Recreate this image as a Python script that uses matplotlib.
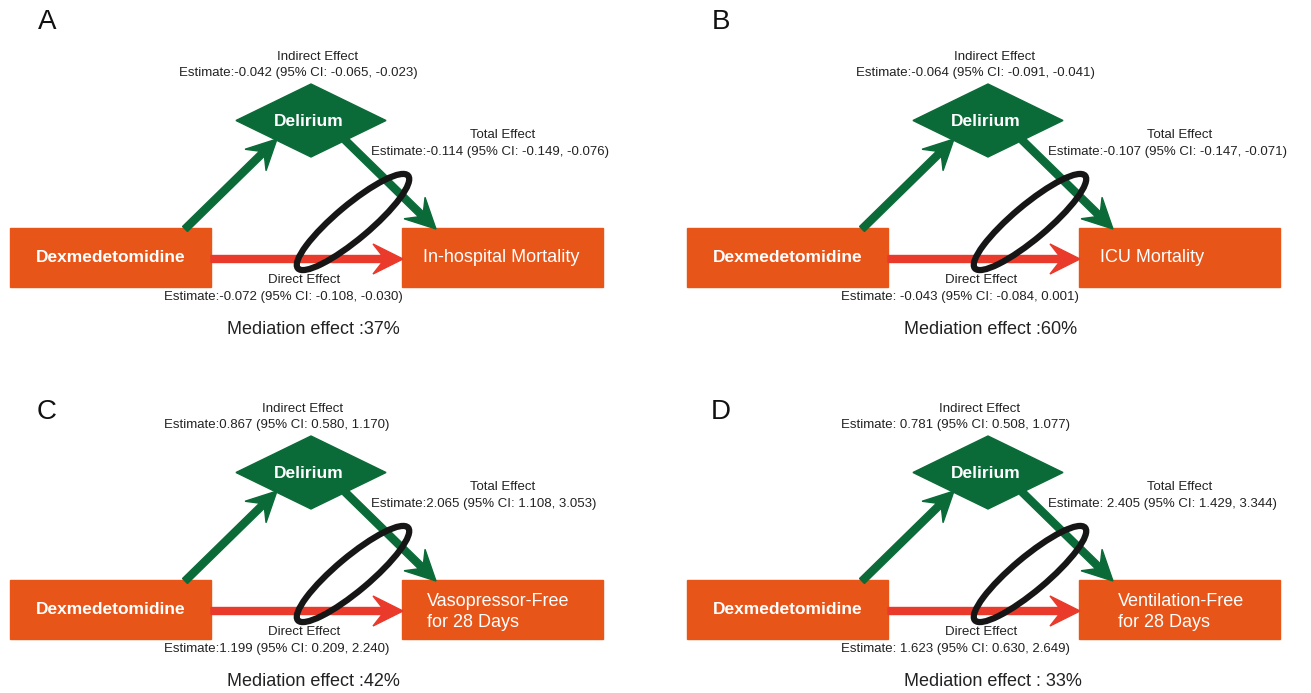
import matplotlib
matplotlib.use("Agg")
import matplotlib.pyplot as plt
from matplotlib.patches import Rectangle, Polygon, Ellipse, FancyArrow

plt.rcParams['font.family'] = ['Liberation Sans', 'DejaVu Sans']

# values
panel_labels = ['A', 'B', 'C', 'D']
exposure = 'Dexmedetomidine'
mediator = 'Delirium'
outcomes = ['In-hospital Mortality', 'ICU Mortality',
            'Vasopressor-Free\nfor 28 Days', 'Ventilation-Free\nfor 28 Days']

indirect_est = [-0.042, -0.064, 0.867, 0.781]
indirect_lo = [-0.065, -0.091, 0.580, 0.508]
indirect_hi = [-0.023, -0.041, 1.170, 1.077]
total_est = [-0.114, -0.107, 2.065, 2.405]
total_lo = [-0.149, -0.147, 1.108, 1.429]
total_hi = [-0.076, -0.071, 3.053, 3.344]
direct_est = [-0.072, -0.043, 1.199, 1.623]
direct_lo = [-0.108, -0.084, 0.209, 0.630]
direct_hi = [-0.030, 0.001, 2.240, 2.649]
mediation_pct = [37, 60, 42, 33]

# separators as printed in the original
indirect_sep = [':', ':', ':', ': ']
total_sep = [':', ':', ':', ': ']
direct_sep = [':', ': ', ':', ': ']
mediation_sep = [' :', ' :', ' :', ' : ']

# colours
ORANGE = '#E85519'
GREEN = '#0B6B38'
RED = '#E93A2B'
TXT = '#222222'

# panel offsets (pixels) and small per-panel tweaks
panel_dx = [0, 677, 0, 677]
panel_dy = [0, 0, 352, 352]
label_y = [22, 22, 412, 412]
indirect_shift = [0, 0, -15, -15]
outcome_text_dx = [21, 21, 25, 39]


def est_text(sep, e, lo, hi):
    return "Estimate%s%.3f (95%% CI: %.3f, %.3f)" % (sep, e, lo, hi)


def arrow(x0, y0, x1, y1, col):
    # swept-back arrowhead like the drawing program ones
    return FancyArrow(x0, y0, x1 - x0, y1 - y0, width=7, head_width=30,
                      head_length=30, length_includes_head=True, overhang=0.3,
                      color=col, zorder=2)


fig = plt.figure(figsize=(13.11, 6.93), dpi=100)
ax = fig.add_axes([0, 0, 1, 1])
ax.set_xlim(0, 1311)
ax.set_ylim(693, 0)
ax.axis('off')

for i in range(4):
    dx = panel_dx[i]
    dy = panel_dy[i]
    sh = indirect_shift[i]

    ax.text(47 + dx - (3 if i % 2 else 0), label_y[i], panel_labels[i],
            fontsize=20, ha='center', va='center', color='#111111')

    # boxes
    ax.add_patch(Rectangle((10 + dx, 228 + dy), 201, 59, color=ORANGE, zorder=2))
    ax.add_patch(Rectangle((402 + dx, 228 + dy), 201, 59, color=ORANGE, zorder=2))
    ax.text(110.5 + dx, 258 + dy, exposure, color='white', fontsize=12.5,
            fontweight='bold', ha='center', va='center', zorder=3)
    ty = 260 if '\n' in outcomes[i] else 258
    ax.text(402 + outcome_text_dx[i] + dx, ty + dy, outcomes[i], color='white',
            fontsize=13, ha='left', va='center', zorder=3, linespacing=1.35)

    # mediator diamond
    cx, cy = 311 + dx, 120.5 + dy
    ax.add_patch(Polygon([(cx - 75, cy), (cx, cy - 36.5), (cx + 75, cy), (cx, cy + 36.5)],
                         closed=True, color=GREEN, zorder=2))
    ax.text(309 + dx, 121 + dy, mediator, color='white', fontsize=12.5,
            fontweight='bold', ha='center', va='center', zorder=3)

    # arrows
    ax.add_patch(arrow(185 + dx, 229 + dy, 277 + dx, 139 + dy, GREEN))
    ax.add_patch(arrow(345 + dx, 140 + dy, 436 + dx, 229 + dy, GREEN))
    ax.add_patch(arrow(211 + dx, 259 + dy, 403 + dx, 259 + dy, RED))

    # ring around the two paths
    ax.add_patch(Ellipse((353 + dx, 222 + dy), 144, 34, angle=-40, fill=False,
                         edgecolor='#161616', linewidth=4.5, zorder=4))

    # effect labels
    ax.text(318 + sh + dx, 57 + dy, 'Indirect Effect', fontsize=9.5, color=TXT,
            ha='center', va='center')
    ax.text(179 + sh + dx, 73 + dy,
            est_text(indirect_sep[i], indirect_est[i], indirect_lo[i], indirect_hi[i]),
            fontsize=9.5, color=TXT, ha='left', va='center')
    ax.text(503 + dx, 135 + dy, 'Total Effect', fontsize=9.5, color=TXT,
            ha='center', va='center')
    ax.text(371 + dx, 152 + dy,
            est_text(total_sep[i], total_est[i], total_lo[i], total_hi[i]),
            fontsize=9.5, color=TXT, ha='left', va='center')
    ax.text(304 + dx, 280 + dy, 'Direct Effect', fontsize=9.5, color=TXT,
            ha='center', va='center', zorder=5)
    ax.text(164 + dx, 297 + dy,
            est_text(direct_sep[i], direct_est[i], direct_lo[i], direct_hi[i]),
            fontsize=9.5, color=TXT, ha='left', va='center')
    ax.text(227 + dx, 330 + dy,
            'Mediation effect%s%d%%' % (mediation_sep[i], mediation_pct[i]),
            fontsize=13, color=TXT, ha='left', va='center')

fig.savefig('out.png', dpi=100)
